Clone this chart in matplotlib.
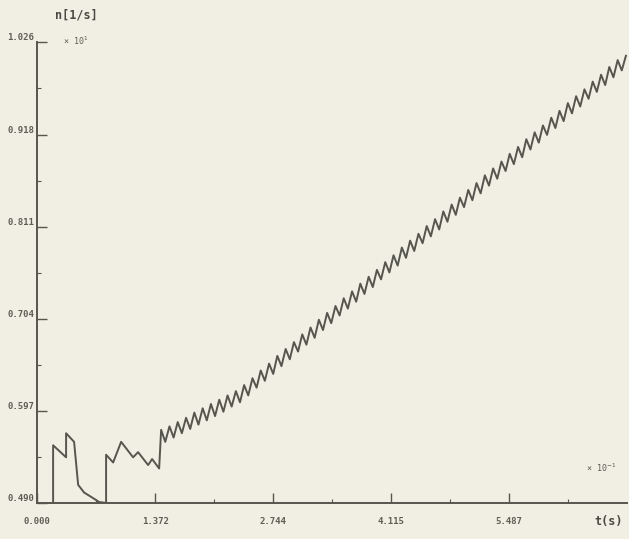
import numpy as np
import matplotlib
matplotlib.use('Agg')
import matplotlib.pyplot as plt

# Axis ticks (t in units of 10^-1 s)
x_ticks = [0.000, 1.372, 2.744, 4.115, 5.487]
x_labels = ['0.000', '1.372', '2.744', '4.115', '5.487']
y_ticks = [0.490, 0.597, 0.704, 0.811, 0.918, 1.026]
y_labels = ['0.490', '0.597', '0.704', '0.811', '0.918', '1.026']

# Start-up part of the speed curve (two attempts, the first one stalls)
start_t = [0.186, 0.186, 0.337, 0.337, 0.430, 0.477, 0.547, 0.628, 0.721, 0.802,
           0.802, 0.884, 0.977, 1.116, 1.174, 1.291, 1.337, 1.419, 1.442]
start_n = [0.490, 0.557, 0.543, 0.571, 0.561, 0.511, 0.502, 0.497, 0.491, 0.490,
           0.546, 0.537, 0.561, 0.543, 0.549, 0.534, 0.541, 0.530, 0.575]

# Ripple on the acceleration ramp: peaks and troughs
peak_t = [1.442, 1.539, 1.635, 1.732, 1.828, 1.925, 2.021, 2.118, 2.214, 2.311,
          2.407, 2.504, 2.600, 2.697, 2.793, 2.890, 2.986, 3.083, 3.179, 3.276,
          3.372, 3.469, 3.565, 3.662, 3.758, 3.855, 3.951, 4.048, 4.144, 4.241,
          4.337, 4.434, 4.530, 4.627, 4.723, 4.820, 4.916, 5.013, 5.109, 5.206,
          5.302, 5.399, 5.495, 5.592, 5.688, 5.785, 5.881, 5.978, 6.074, 6.171,
          6.267, 6.364, 6.460, 6.557, 6.653, 6.750, 6.846]
peak_n = [0.576, 0.579, 0.584, 0.589, 0.595, 0.600, 0.605, 0.610, 0.615, 0.620,
          0.627, 0.635, 0.644, 0.652, 0.661, 0.669, 0.677, 0.686, 0.694, 0.703,
          0.711, 0.719, 0.728, 0.736, 0.745, 0.753, 0.761, 0.770, 0.778, 0.787,
          0.795, 0.803, 0.812, 0.820, 0.829, 0.837, 0.845, 0.854, 0.862, 0.871,
          0.879, 0.887, 0.896, 0.904, 0.913, 0.921, 0.929, 0.938, 0.946, 0.955,
          0.963, 0.971, 0.980, 0.988, 0.997, 1.005, 1.010]
trough_t = [1.490, 1.587, 1.683, 1.780, 1.876, 1.973, 2.069, 2.166, 2.262, 2.359,
            2.455, 2.552, 2.648, 2.745, 2.841, 2.938, 3.034, 3.131, 3.227, 3.324,
            3.420, 3.517, 3.613, 3.710, 3.806, 3.903, 3.999, 4.096, 4.192, 4.289,
            4.385, 4.482, 4.578, 4.675, 4.771, 4.868, 4.964, 5.061, 5.157, 5.254,
            5.350, 5.447, 5.543, 5.640, 5.736, 5.833, 5.929, 6.026, 6.122, 6.219,
            6.315, 6.412, 6.508, 6.605, 6.701, 6.798]
trough_n = [0.561, 0.566, 0.571, 0.576, 0.581, 0.586, 0.591, 0.596, 0.602, 0.607,
            0.615, 0.624, 0.632, 0.640, 0.649, 0.657, 0.666, 0.674, 0.682, 0.691,
            0.699, 0.708, 0.716, 0.724, 0.733, 0.741, 0.750, 0.758, 0.766, 0.775,
            0.783, 0.792, 0.800, 0.808, 0.817, 0.825, 0.834, 0.842, 0.850, 0.859,
            0.867, 0.876, 0.884, 0.892, 0.901, 0.909, 0.918, 0.926, 0.934, 0.943,
            0.951, 0.960, 0.968, 0.976, 0.985, 0.993]

# interleave peaks and troughs into one polyline
ripple_t, ripple_n = [], []
for i in range(len(peak_t)):
    ripple_t.append(peak_t[i])
    ripple_n.append(peak_n[i])
    if i < len(trough_t):
        ripple_t.append(trough_t[i])
        ripple_n.append(trough_n[i])

t = np.array(start_t + ripple_t[1:])
n = np.array(start_n + ripple_n[1:])

paper = '#f1efe3'
ink = '#56564f'
text_col = '#5e5e57'
font = 'DejaVu Sans Mono'

fig = plt.figure(figsize=(6.29, 5.39), dpi=100, facecolor=paper)
ax = fig.add_axes([0.059, 0.067, 0.938, 0.855], facecolor=paper)

ax.plot(t, n, color=ink, lw=1.4)

ax.set_xlim(0, 6.86)
ax.set_ylim(0.490, 1.026)

for side in ['top', 'right']:
    ax.spines[side].set_visible(False)
for side in ['left', 'bottom']:
    ax.spines[side].set_color(ink)
    ax.spines[side].set_linewidth(1.4)

ax.set_xticks(x_ticks)
ax.set_xticklabels(x_labels)
ax.set_yticks(y_ticks)
ax.set_yticklabels(y_labels)
# minor ticks halfway between the labelled ones
x_minor = [(a + b) / 2 for a, b in zip(x_ticks[:-1], x_ticks[1:])] + [x_ticks[-1] + (x_ticks[1] - x_ticks[0]) / 2]
y_minor = [(a + b) / 2 for a, b in zip(y_ticks[:-1], y_ticks[1:])]
ax.set_xticks(x_minor, minor=True)
ax.set_yticks(y_minor, minor=True)

ax.tick_params(axis='both', which='major', direction='in', length=7, width=1.0,
               color=ink, labelsize=6.5, labelcolor=text_col)
ax.tick_params(axis='both', which='minor', direction='in', length=3, width=0.8,
               color=ink)
ax.tick_params(axis='x', which='major', pad=10)
ax.tick_params(axis='y', which='major', pad=2)
for lab in ax.get_yticklabels():
    lab.set_va('bottom')
    lab.set_family(font)
    lab.set_fontweight('bold')
for lab in ax.get_xticklabels():
    lab.set_family(font)
    lab.set_fontweight('bold')

# axis names and scale factors
fig.text(0.088, 0.972, 'n[1/s]', family=font, fontsize=8.5, fontweight='bold',
         color='#4a4a44', ha='left', va='center')
fig.text(0.100, 0.925, '× 10$^{1}$', family=font, fontsize=6, color=text_col,
         ha='left', va='center')
fig.text(0.955, 0.133, '× 10$^{-1}$', family=font, fontsize=6, color=text_col,
         ha='center', va='center')
fig.text(0.968, 0.032, 't(s)', family=font, fontsize=8.5, fontweight='bold',
         color='#4a4a44', ha='center', va='center')

fig.savefig('out.png', dpi=100, facecolor=paper)
